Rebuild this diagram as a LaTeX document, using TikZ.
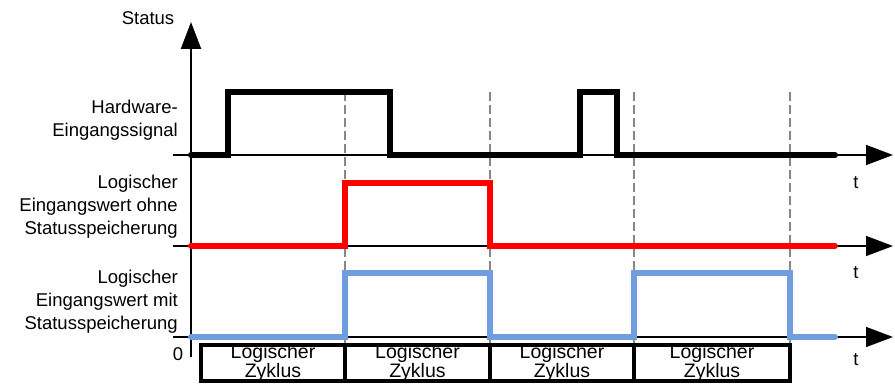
\documentclass[tikz,border=0pt]{standalone}
\usepackage{fontspec}
\setmainfont{Liberation Sans}
\usetikzlibrary{arrows.meta}

\definecolor{sigred}{RGB}{255,0,0}
\definecolor{sigblue}{RGB}{112,157,222}
\definecolor{gridgray}{RGB}{135,135,135}

\begin{document}
\begin{tikzpicture}[x=1pt, y=-1pt,
    font=\fontsize{18.5}{23}\selectfont,
    axis/.style={line width=1.4pt, -{Triangle[length=27pt,width=20pt]}},
    sig/.style={line width=6pt, line cap=round},
    grid/.style={gridgray, line width=1.2pt, dash pattern=on 9pt off 4pt},
    lbl/.style={anchor=north east, align=right, inner sep=0pt},
    cycbox/.style={line width=3.2pt},
    cyctext/.style={align=center, inner sep=0pt, font=\fontsize{19.5}{15}\selectfont}]
    \useasboundingbox (0,0) rectangle (895,385);

    % Axes
    \coordinate (origin) at (191,357);
    \coordinate (top) at (191,22);
    \draw[axis, line width=2.2pt] (origin) -- (top);
    \node (status) at (148,18) {Status};
    \node[inner sep=0pt] (zero) at (178,354) {0};

    \foreach \y/\ty/\n in {155/183/hw, 246/273/ohne, 337/360/mit} {
        \coordinate (a\n) at (173,\y);
        \coordinate (e\n) at (893,\y);
        \draw[axis] (a\n) -- (e\n);
        \node[inner sep=0pt] (t\n) at (856,\ty) {t};
    }

    % Signal names
    \node[lbl] (hwlbl) at (178,100) {Hardware-\\Eingangssignal};
    \node[lbl] (ohnelbl) at (178,175) {Logischer\\Eingangswert ohne\\Statusspeicherung};
    \node[lbl] (mitlbl) at (178,270) {Logischer\\Eingangswert mit\\Statusspeicherung};

    % Cycle borders
    \foreach \x in {345,490,634,790} {
        \draw[grid] (\x,92) -- (\x,345);
    }

    % Signals
    \draw[sig, black] (191,155) -| (228,92) -| (390,155) -| (580,92) -| (617,155) -- (835,155);
    \draw[sig, sigred] (191,246) -| (345,183) -| (490,246) -- (835,246);
    \draw[sig, sigblue] (191,337) -| (345,273) -| (490,337) -| (634,273) -| (790,337) -- (835,337);

    % Logical cycles
    \foreach \a/\b [count=\i] in {201/345, 345/490, 490/634, 634/790} {
        \draw[cycbox] (\a,345) rectangle (\b,381);
        \node[cyctext] (cyc\i) at ({(\a+\b)/2},363) {Logischer\\Zyklus};
    }
\end{tikzpicture}
\end{document}
